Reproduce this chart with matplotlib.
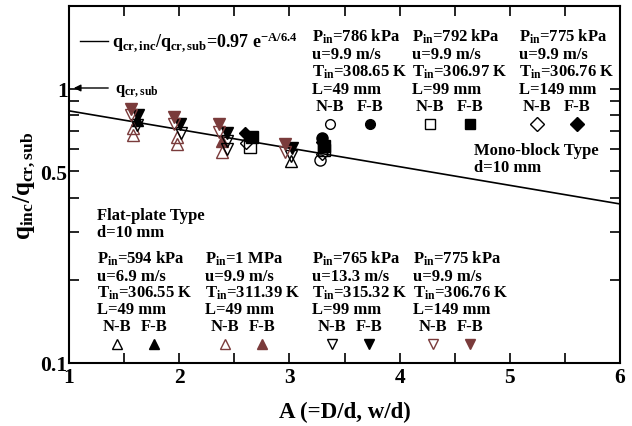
import numpy as np
import matplotlib
matplotlib.use("Agg")
import matplotlib.pyplot as plt
from matplotlib.ticker import FixedLocator, NullFormatter

plt.rcParams['font.family'] = ['Liberation Serif', 'DejaVu Serif']
plt.rcParams['font.weight'] = 'bold'
plt.rcParams['mathtext.fontset'] = 'custom'
plt.rcParams['mathtext.rm'] = 'Liberation Serif:bold'
plt.rcParams['mathtext.it'] = 'Liberation Serif:bold'
plt.rcParams['mathtext.bf'] = 'Liberation Serif:bold'

BROWN = '#7a3b3b'

# flat-plate type (triangles)
fp1_nb_A = [3.01]
fp1_nb_q = [0.545]
fp1_fb_A = [1.62]
fp1_fb_q = [0.77]

fp2_nb_A = [1.58, 1.58, 1.98, 1.98, 2.39]
fp2_nb_q = [0.72, 0.68, 0.665, 0.627, 0.585]
fp2_fb_A = [2.39]
fp2_fb_q = [0.642]

fp3_nb_A = [1.62, 2.02, 2.43, 2.43, 3.01]
fp3_nb_q = [0.735, 0.69, 0.642, 0.60, 0.57]
fp3_fb_A = [1.63, 2.01, 2.43, 3.02]
fp3_fb_q = [0.80, 0.74, 0.69, 0.61]

fp4_nb_A = [1.56, 1.95, 2.36, 2.96]
fp4_nb_q = [0.80, 0.745, 0.692, 0.585]
fp4_fb_A = [1.56, 1.95, 2.36, 2.96]
fp4_fb_q = [0.845, 0.79, 0.74, 0.626]

# mono-block type
mb49_nb_A = [3.28]
mb49_nb_q = [0.55]
mb49_fb_A = [3.30]
mb49_fb_q = [0.66]
mb99_nb_A = [2.64, 3.31]
mb99_nb_q = [0.615, 0.595]
mb99_fb_A = [2.66, 3.31]
mb99_fb_q = [0.665, 0.62]
mb149_nb_A = [2.61, 3.30]
mb149_nb_q = [0.635, 0.58]
mb149_fb_A = [2.60, 3.30]
mb149_fb_q = [0.69, 0.64]

coef = 0.97
decay = 6.4

top_blocks = [
    ("786 kPa", "9.9", "308.65", "49"),
    ("792 kPa", "9.9", "306.97", "99"),
    ("775 kPa", "9.9", "306.76", "149"),
]
bottom_blocks = [
    ("594 kPa", "6.9", "306.55", "49"),
    ("1 MPa", "9.9", "311.39", "49"),
    ("765 kPa", "13.3", "315.32", "99"),
    ("775 kPa", "9.9", "306.76", "149"),
]

fig = plt.figure(figsize=(6.32, 4.27), dpi=100)
ax = fig.add_axes([69/632, 63/427, 551/632, 357/427])

W, H = 551.0, 357.0
def fx(p):
    return (p - 69) / W
def fy(p):
    return (364 - p) / H

ms = 8
series = [
    (fp1_nb_A, fp1_nb_q, '^', 'none', 'k'),
    (fp1_fb_A, fp1_fb_q, '^', 'k', 'k'),
    (fp2_nb_A, fp2_nb_q, '^', 'none', BROWN),
    (fp2_fb_A, fp2_fb_q, '^', BROWN, BROWN),
    (fp3_nb_A, fp3_nb_q, 'v', 'none', 'k'),
    (fp3_fb_A, fp3_fb_q, 'v', 'k', 'k'),
    (fp4_nb_A, fp4_nb_q, 'v', 'none', BROWN),
    (fp4_fb_A, fp4_fb_q, 'v', BROWN, BROWN),
    (mb49_nb_A, mb49_nb_q, 'o', 'none', 'k'),
    (mb49_fb_A, mb49_fb_q, 'o', 'k', 'k'),
    (mb99_nb_A, mb99_nb_q, 's', 'none', 'k'),
    (mb99_fb_A, mb99_fb_q, 's', 'k', 'k'),
    (mb149_nb_A, mb149_nb_q, 'D', 'none', 'k'),
    (mb149_fb_A, mb149_fb_q, 'D', 'k', 'k'),
]
for A, q, m, fc, ec in series:
    ax.plot(A, q, linestyle='none', marker=m, ms=ms if m != 'D' else ms - 1.5,
            mfc=fc, mec=ec, mew=1.0, zorder=3)

xs = np.linspace(1, 6, 200)
ax.plot(xs, coef * np.exp(-xs / decay), color='k', lw=1.2, zorder=2)

ax.set_yscale('log')
ax.set_xlim(1, 6)
ax.set_ylim(0.1, 2)
ax.xaxis.set_major_locator(FixedLocator([1, 2, 3, 4, 5, 6]))
ax.xaxis.set_minor_locator(FixedLocator([1.5, 2.5, 3.5, 4.5, 5.5]))
ax.yaxis.set_major_locator(FixedLocator([0.1, 0.5, 1]))
ax.yaxis.set_minor_locator(FixedLocator([0.2, 0.3, 0.4, 0.6, 0.7, 0.8, 0.9, 2]))
ax.yaxis.set_minor_formatter(NullFormatter())
ax.set_yticklabels(['0.1', '0.5', '1'])
ax.set_xticklabels(['1', '2', '3', '4', '5', '6'])
ax.tick_params(which='both', direction='in', top=True, right=True, width=1.2,
               labelsize=15.5, pad=1)
ax.tick_params(which='major', length=7)
ax.tick_params(which='minor', length=7)
ax.tick_params(axis='x', pad=3)
for t in ax.get_xticklabels() + ax.get_yticklabels():
    t.set_fontweight('bold')
for s in ax.spines.values():
    s.set_linewidth(1.5)

ax.set_xlabel('A (=D/d, w/d)', fontsize=16.5, fontweight='bold', labelpad=10)
ax.set_ylabel(r'q$_{\mathrm{inc}}$/q$_{\mathrm{cr,sub}}$', fontsize=18,
              fontweight='bold', labelpad=2)

fs = 12
tr = ax.transAxes
# correlation legend
ax.plot([fx(80), fx(108)], [fy(42), fy(42)], color='k', lw=1, transform=tr)
ax.text(fx(112), fy(47), r'q$_{\mathrm{cr,inc}}$/q$_{\mathrm{cr,sub}}$=0.97 e$^{\mathrm{-A/6.4}}$',
        transform=tr, fontsize=13, va='baseline')
ax.annotate('', xy=(fx(71), fy(89)), xytext=(fx(111), fy(89)), xycoords=tr,
            arrowprops=dict(arrowstyle='-|>', color='k', lw=1, mutation_scale=10))
ax.text(fx(115), fy(93), r'q$_{\mathrm{cr,sub}}$', transform=tr, fontsize=12,
        va='baseline')

def block(x0, base, vals, mk_nb, mk_fb, col, nb_x, fb_x, dy=17.3):
    p, u, t, L = vals
    lines = [r'P$_{\mathrm{in}}$=' + p, 'u=' + u + ' m/s',
             r'T$_{\mathrm{in}}$=' + t + ' K', 'L=' + L + ' mm']
    for i, s in enumerate(lines):
        ax.text(fx(x0), fy(base + i * dy), s, transform=tr, fontsize=fs,
                va='baseline', ha='left')
    ax.text(fx(nb_x), fy(base + 4 * dy), 'N-B', transform=tr, fontsize=fs,
            va='baseline', ha='center')
    ax.text(fx(fb_x), fy(base + 4 * dy), 'F-B', transform=tr, fontsize=fs,
            va='baseline', ha='center')
    my = fy(base + 4 * dy + 14)
    ax.plot([fx(nb_x)], [my], marker=mk_nb, ms=7, mfc='white', mec=col, mew=1,
            transform=tr, clip_on=False)
    ax.plot([fx(fb_x)], [my], marker=mk_fb, ms=7, mfc=col, mec=col, mew=1,
            transform=tr, clip_on=False)

top_x = [312, 412, 519]
top_marks = ['o', 's', 'D']
for x0, vals, m in zip(top_x, top_blocks, top_marks):
    block(x0, 42, vals, m, m, 'k', x0 + 18, x0 + 58)

bot_x = [97, 205, 312, 413]
bot_marks = ['^', '^', 'v', 'v']
bot_cols = ['k', BROWN, 'k', BROWN]
for x0, vals, m, c in zip(bot_x, bottom_blocks, bot_marks, bot_cols):
    block(x0, 264, vals, m, m, c, x0 + 20, x0 + 57, dy=16.8)

ax.text(fx(97), fy(220), 'Flat-plate Type', transform=tr, fontsize=fs, va='baseline')
ax.text(fx(97), fy(237), 'd=10 mm', transform=tr, fontsize=fs, va='baseline')
ax.text(fx(474), fy(155), 'Mono-block Type', transform=tr, fontsize=fs, va='baseline')
ax.text(fx(474), fy(172), 'd=10 mm', transform=tr, fontsize=fs, va='baseline')

fig.savefig('out.png', dpi=100)
